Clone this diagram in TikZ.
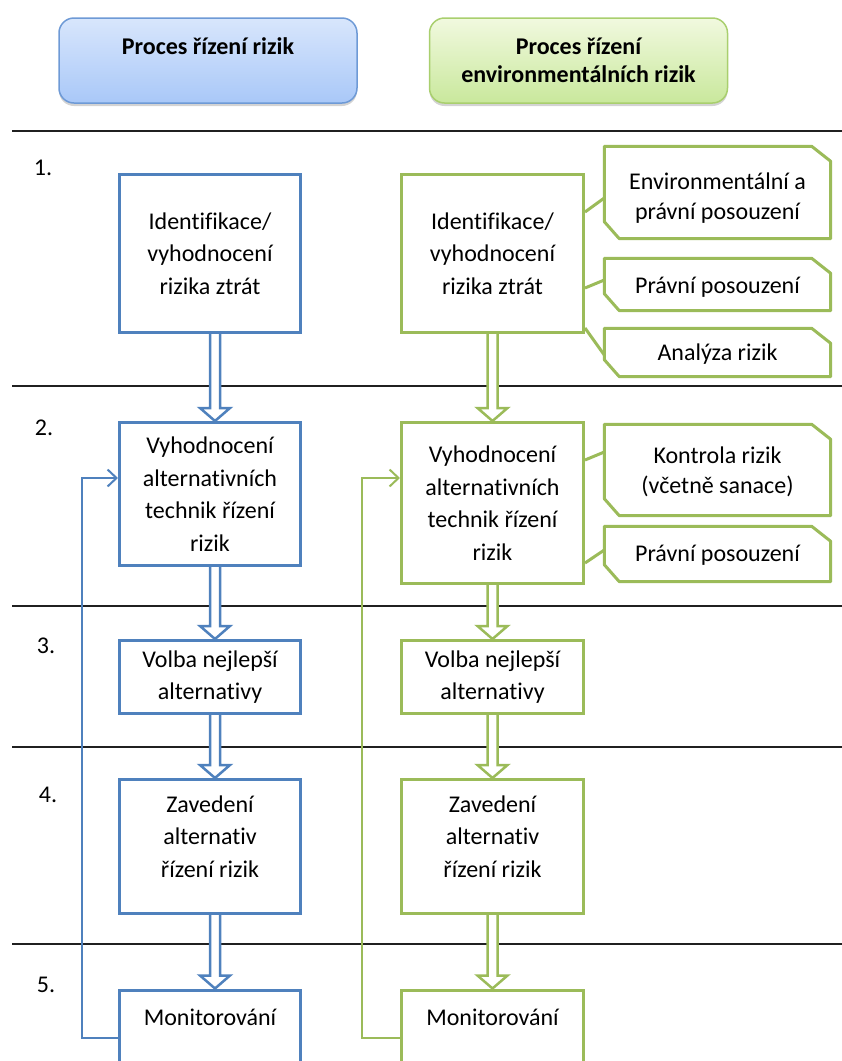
\documentclass[tikz,border=0pt]{standalone}
\usepackage{fontspec}
\setmainfont{Carlito}[Ligatures=NoCommon]
\usetikzlibrary{calc,arrows.meta,shadows}
\definecolor{bline}{HTML}{4F81BD}
\definecolor{gline}{HTML}{9BBB59}
\definecolor{bhdr}{HTML}{6E9AD6}
\definecolor{ghdr}{HTML}{A9CF6E}
\definecolor{btop}{HTML}{D8E6FC}
\definecolor{bbot}{HTML}{A9C8F8}
\definecolor{gtop}{HTML}{F1F9DF}
\definecolor{gbot}{HTML}{C9E89C}
\definecolor{sepc}{HTML}{202020}
% #1 from node, #2 to node, #3 colour, #4 x offset
\newcommand\harrow[4]{\filldraw[hollowarrow=#3] let \p1=(#1.south), \p2=(#2.north) in (\x1+#4-5pt,\y1) -- (\x1+#4-5pt,\y2+13pt) -- (\x1+#4-15pt,\y2+13pt) -- (\x1+#4,\y2) -- (\x1+#4+15pt,\y2+13pt) -- (\x1+#4+5pt,\y2+13pt) -- (\x1+#4+5pt,\y1);}
\newcommand\chamf[1]{\draw[calloutline] (#1.north west) -- ([xshift=-19pt]#1.north east) -- ([yshift=-15pt]#1.north east) -- (#1.south east) -- ([xshift=15pt]#1.south west) -- ([yshift=17pt]#1.south west) -- cycle;}
\begin{document}
\begin{tikzpicture}[x=1pt,y=-1pt,
  txt/.style={font=\fontsize{24}{32.5}\selectfont, align=center, text=black},
  hdr/.style={txt, font=\fontsize{24}{28.5}\selectfont\bfseries, rounded corners=15pt, line width=1.5pt, minimum width=298, minimum height=85, drop shadow={opacity=0.35, shadow xshift=0pt, shadow yshift=-3pt}},
  blueh/.style={draw=bhdr, top color=btop, bottom color=bbot},
  greenh/.style={draw=ghdr, top color=gtop, bottom color=gbot},
  bbox/.style={txt, draw=bline, line width=3pt, minimum width=181, fill=white},
  gbox/.style={txt, draw=gline, line width=3pt, minimum width=182, fill=white},
  lastbox/.style={anchor=north, text height=20pt, text depth=46pt, inner ysep=15pt},
  callout/.style={minimum width=226},
  callouttext/.style={font=\fontsize{24}{30}\selectfont, align=center, text=black},
  calloutline/.style={draw=gline, line width=3pt, line join=round},
  hollowarrow/.style={draw=#1, line width=2.5pt, fill=white, line join=miter},
  sep/.style={draw=sepc, line width=1.6pt},
  num/.style={font=\fontsize{24}{28}\selectfont, text=black},
  fb/.style={draw=#1, line width=2pt, -{Straight Barb[length=9pt,width=17pt]}},
  gconn/.style={draw=gline, line width=3pt}
]
\useasboundingbox (0,0) rectangle (842,1061);
\clip (0,0) rectangle (842,1061);
% separators
\foreach \yy in {131,386,606,747,944} \draw[sep] (12,\yy) -- (842,\yy);
% numbers
\node[num] (n1) at (43,168) {1.};
\node[num] (n2) at (44,428) {2.};
\node[num] (n3) at (46,646) {3.};
\node[num] (n4) at (48,795) {4.};
\node[num] (n5) at (46,985) {5.};
% headers
\node[hdr, blueh] (h1) at (208,60.5) {Proces řízení rizik\\\mbox{}};
\node[hdr, greenh] (h2) at (578.5,60.5) {Proces řízení\\environmentálních rizik};
% left column
\node[bbox, minimum height=158] (b1) at (210,253.5) {Identifikace/\\vyhodnocení\\rizika ztrát};
\node[bbox, minimum height=143] (b2) at (210,494) {Vyhodnocení\\alternativních\\technik řízení\\rizik};
\node[bbox, minimum height=73] (b3) at (210,677) {Volba nejlepší\\alternativy};
\node[bbox, minimum height=134] (b4) at (210,846.5) {Zavedení\\alternativ\\řízení rizik\\[-12pt]\mbox{}};
\node[bbox, lastbox] (b5) at (210,988.5) {Monitorování};
% right column
\node[gbox, minimum height=158] (g1) at (492.5,253.5) {Identifikace/\\vyhodnocení\\rizika ztrát};
\node[gbox, minimum height=161] (g2) at (492.5,503) {Vyhodnocení\\alternativních\\technik řízení\\rizik};
\node[gbox, minimum height=73] (g3) at (492.5,677) {Volba nejlepší\\alternativy};
\node[gbox, minimum height=134] (g4) at (492.5,846.5) {Zavedení\\alternativ\\řízení rizik\\[-12pt]\mbox{}};
\node[gbox, lastbox] (g5) at (492.5,988.5) {Monitorování};
% hollow arrows
\harrow{b1}{b2}{bline}{5pt}
\harrow{b2}{b3}{bline}{5pt}
\harrow{b3}{b4}{bline}{5pt}
\harrow{b4}{b5}{bline}{5pt}
\harrow{g1}{g2}{gline}{0pt}
\harrow{g2}{g3}{gline}{0pt}
\harrow{g3}{g4}{gline}{0pt}
\harrow{g4}{g5}{gline}{0pt}
% feedback
\draw[fb=bline] (b5.west) -- ++(-36,0) |- ([yshift=16pt]b2.west);
\draw[fb=gline] (g5.west) -- ++(-38,0) |- ([yshift=25pt]g2.west);
% callouts
\node[callout, minimum height=92] (c1) at (717.5,192.5) {};
\node[callout, minimum height=52] (c2) at (717.5,284.5) {};
\node[callout, minimum height=48] (c3) at (717.5,352.5) {};
\node[callout, minimum height=91] (c4) at (717.5,470) {};
\node[callout, minimum height=55] (c5) at (717.5,554) {};
\chamf{c1}\chamf{c2}\chamf{c3}\chamf{c4}\chamf{c5}
\node[callouttext] (t1) at ([yshift=-6pt]c1.center) {Environmentální a\\právní posouzení};
\node[callouttext] (t2) at ([yshift=-3pt]c2.center) {Právní posouzení};
\node[callouttext] (t3) at ([yshift=-2pt]c3.center) {Analýza rizik};
\node[callouttext] (t4) at ([yshift=-2pt]c4.center) {Kontrola rizik\\(včetně sanace)};
\node[callouttext] (t5) at ([yshift=-1pt]c5.center) {Právní posouzení};
\draw[gconn] (g1.east |- 0,212) -- (c1.west |- 0,198);
\draw[gconn] (g1.east |- 0,288) -- (c2.west |- 0,280);
\draw[gconn] (g1.east |- 0,328) -- (c3.west |- 0,355);
\draw[gconn] (g2.east |- 0,460) -- (c4.west |- 0,452);
\draw[gconn] (g2.east |- 0,563) -- (c5.west |- 0,550);
\end{tikzpicture}
\end{document}
